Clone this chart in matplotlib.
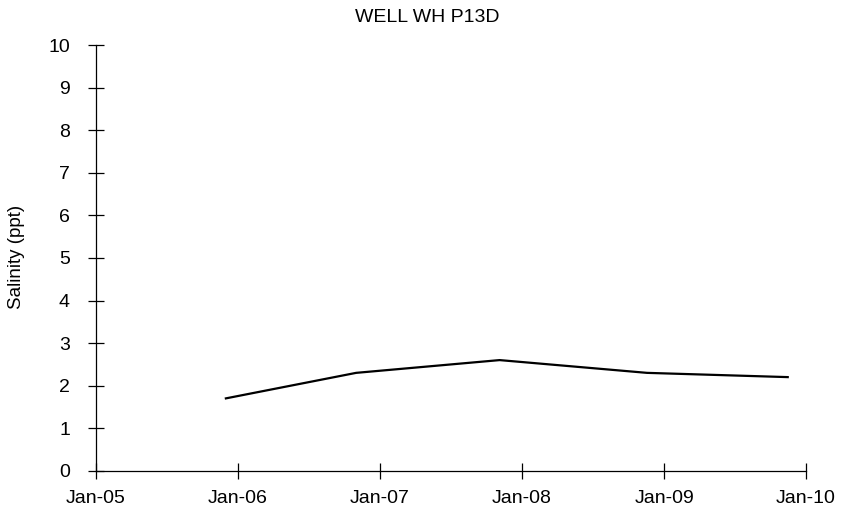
import matplotlib
matplotlib.use("Agg")
import matplotlib.pyplot as plt
import matplotlib.dates as mdates
import pandas as pd

# --------------------------------------------------
# data

sample_dates = ["2005-12-01", "2006-11-01", "2007-11-05", "2008-11-18", "2009-11-15"]
salinity = [1.7, 2.3, 2.6, 2.3, 2.2]
title = "WELL WH P13D"
ylabel = "Salinity (ppt)"

# --------------------------------------------------

plt.rcParams["font.family"] = ["Liberation Sans", "DejaVu Sans"]

dates = pd.to_datetime(sample_dates)

fig = plt.figure(figsize=(8.42, 5.18), dpi=100)
ax = fig.add_axes([96 / 842, 1 - 470.7 / 518, 710 / 842, 425.4 / 518])

ax.plot(dates, salinity, color="black", linewidth=1.6)

ax.set_xlim(pd.Timestamp("2005-01-01"), pd.Timestamp("2010-01-01"))
ax.set_ylim(0, 10)
ax.set_yticks(range(0, 11))
ax.xaxis.set_major_locator(mdates.YearLocator())
ax.xaxis.set_major_formatter(mdates.DateFormatter("%b-%y"))

for side in ["top", "right"]:
    ax.spines[side].set_visible(False)
for side in ["left", "bottom"]:
    ax.spines[side].set_linewidth(0.9)
    ax.spines[side].set_clip_on(False)

ax.tick_params(axis="both", direction="inout", length=11.5, width=0.9,
               labelsize=14, colors="black")
ax.tick_params(axis="y", pad=13)
ax.tick_params(axis="x", pad=8)
for t in ax.get_xticklabels() + ax.get_yticklabels():
    t.set_clip_on(False)

fig.text(427 / 842, 1 - 18 / 518, title, ha="center", va="center", fontsize=14)
fig.text(17 / 842, 1 - 257 / 518, ylabel, ha="center", va="center",
         rotation=90, fontsize=13.5)

fig.savefig("out.png", dpi=100)
